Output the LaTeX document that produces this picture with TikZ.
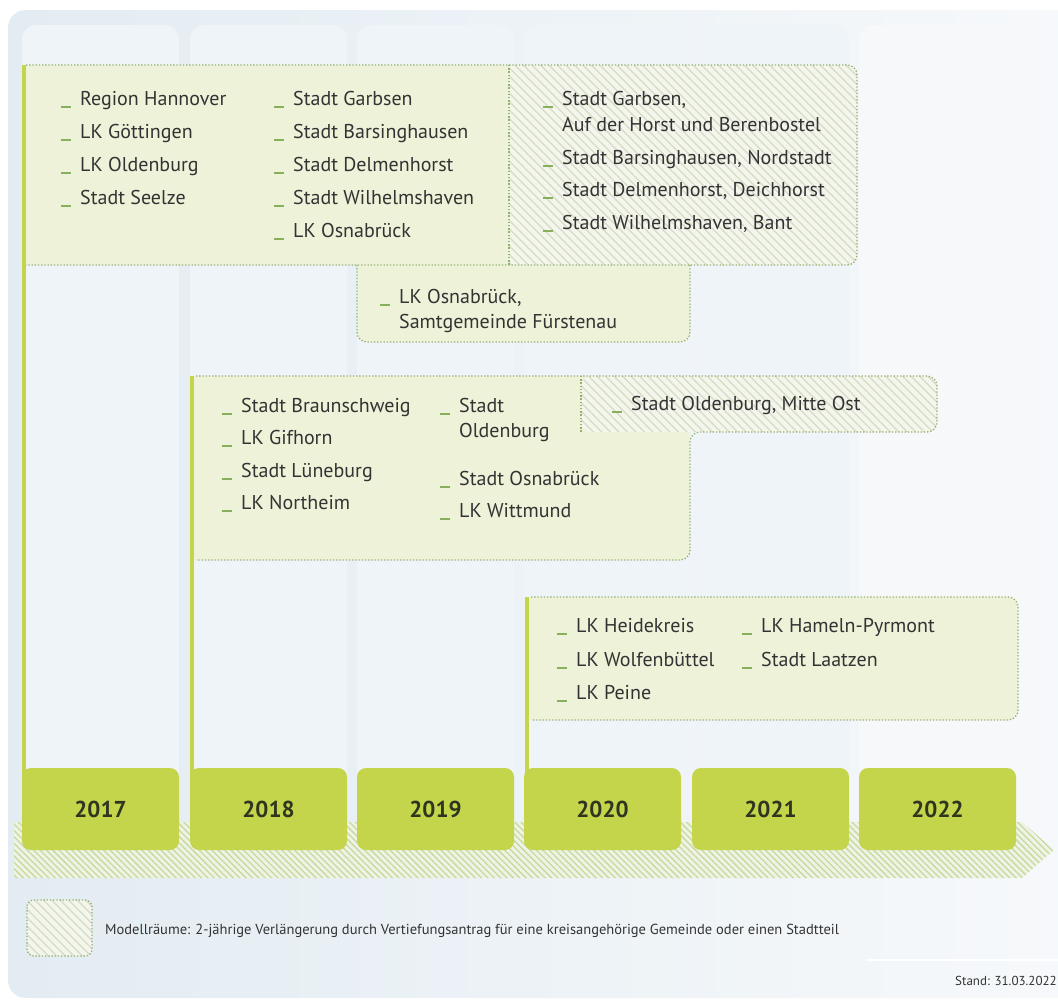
\documentclass[tikz,border=0pt]{standalone}
\usepackage{fontspec}
\setmainfont{PT Sans}
\usetikzlibrary{patterns.meta}

\definecolor{bgleft}{HTML}{E3ECF2}
\definecolor{bgright}{HTML}{F7F9FB}
\definecolor{colbg}{HTML}{EFF4F8}
\definecolor{colwhite}{HTML}{F6F8FA}
\definecolor{boxfill}{HTML}{EEF2D9}
\definecolor{hatchbg}{HTML}{F4F6EE}
\definecolor{hatchline}{HTML}{D7DEC6}
\definecolor{bandbg}{HTML}{EEF3E6}
\definecolor{bandline}{HTML}{C7DA9C}
\definecolor{yeargreen}{HTML}{C4D54C}
\definecolor{dotgreen}{HTML}{92B070}
\definecolor{dashgreen}{HTML}{86B05A}
\definecolor{textgray}{HTML}{333333}
\definecolor{yeartext}{HTML}{30351F}

\newcommand{\itemdash}{\textcolor{dashgreen}{\rule[-2.5pt]{10pt}{1.6pt}}\hspace{9pt}}

\tikzset{
    plainbox/.style={fill=boxfill},
    hatchbox/.style={preaction={fill=hatchbg}, pattern={Lines[angle=-45,distance=6pt,line width=1.4pt]}, pattern color=hatchline},
    bandhatch/.style={preaction={fill=bandbg}, pattern={Lines[angle=-45,distance=4.5pt,line width=1.3pt]}, pattern color=bandline},
    dotborder/.style={draw=dotgreen, line width=1.3pt, dash pattern=on 1.3pt off 1.9pt, rounded corners=10pt},
    greenbar/.style={draw=yeargreen, line width=4pt, shorten >=-8pt},
    column/.style={fill=colbg, rounded corners=14pt},
    yearbox/.style={fill=yeargreen, rounded corners=9pt, minimum width=157pt, minimum height=82pt, inner sep=0pt, text=yeartext, font=\fontsize{23}{26}\selectfont\bfseries},
    item/.style={anchor=base west, inner sep=0pt, text=textgray, font=\fontsize{20}{26}\selectfont},
    smalltext/.style={inner sep=0pt, text=textgray, font=\fontsize{14.5}{16}\selectfont},
}

\begin{document}
\begin{tikzpicture}[x=1pt,y=-1pt]
    \useasboundingbox (0,0) rectangle (1058,1001);
    \fill[white] (0,0) rectangle (1058,1001);
    \clip (0,0) rectangle (1058,1001);
    \shade[left color=bgleft, right color=bgright, rounded corners=18pt] (8,10) rectangle (1090,998);

    \fill[column] (22,25) rectangle (179,790);
    \fill[column] (190,25) rectangle (347,790);
    \fill[column] (357,25) rectangle (514,790);
    \fill[column] (524,25) rectangle (681,790);
    \fill[column] (692,25) rectangle (849,790);
    \fill[column, fill=colwhite] (859,25) rectangle (1016,790);

    \path[bandhatch] (14,822) -- (1022,822) -- (1054,850) -- (1022,878) -- (14,878) -- cycle;

    \node[yearbox] (y2017) at (100.5,809) {2017};
    \node[yearbox] (y2018) at (268.5,809) {2018};
    \node[yearbox] (y2019) at (435.5,809) {2019};
    \node[yearbox] (y2020) at (602.5,809) {2020};
    \node[yearbox] (y2021) at (770.5,809) {2021};
    \node[yearbox] (y2022) at (937.5,809) {2022};

    \fill[plainbox, rounded corners=10pt] (357,250) rectangle (690,342);
    \path[hatchbox, rounded corners=10pt] (499,65) rectangle (857,265);
    \fill[plainbox] (24,65) rectangle (509,265);
    \draw[dotborder] (26,65) -- (857,65) -- (857,265) -- (26,265);
    \draw[dotborder] (509,65) -- (509,265);
    \draw[dotborder] (357,265) -- (357,342) -- (690,342) -- (690,265);

    \fill[plainbox, rounded corners=10pt] (192,376) rectangle (690,560);
    \fill[plainbox] (192,376) rectangle (600,560);
    \path[hatchbox, rounded corners=10pt] (581,376) rectangle (937,432);
    \draw[dotborder] (196,376) -- (937,376) -- (937,432) -- (690,432) -- (690,560) -- (196,560);
    \draw[dotborder] (581,376) -- (581,432);

    \fill[plainbox, rounded corners=10pt] (527,597) rectangle (1018,720);
    \fill[plainbox] (527,597) rectangle (800,720);
    \draw[dotborder] (531,597) -- (1018,597) -- (1018,720) -- (531,720);

    \coordinate (barA) at (24,65);
    \coordinate (barD) at (192,376);
    \coordinate (barF) at (527,597);
    \draw[greenbar] (barA) -- (barA |- y2017.north);
    \draw[greenbar] (barD) -- (barD |- y2018.north);
    \draw[greenbar] (barF) -- (barF |- y2020.north);

    \node[item] (hannover) at (61,105) {\itemdash Region Hannover};
    \node[item] (goettingen) at (61,138) {\itemdash LK Göttingen};
    \node[item] (oldenburgLK) at (61,171) {\itemdash LK Oldenburg};
    \node[item] (seelze) at (61,204) {\itemdash Stadt Seelze};

    \node[item] (garbsen) at (274,105) {\itemdash Stadt Garbsen};
    \node[item] (barsinghausen) at (274,138) {\itemdash Stadt Barsinghausen};
    \node[item] (delmenhorst) at (274,171) {\itemdash Stadt Delmenhorst};
    \node[item] (wilhelmshaven) at (274,204) {\itemdash Stadt Wilhelmshaven};
    \node[item] (osnabrueckLK) at (274,237) {\itemdash LK Osnabrück};

    \node[item] (garbsenV) at (543,105) {\itemdash Stadt Garbsen,};
    \node[item] (garbsenV2) at (562,131) {Auf der Horst und Berenbostel};
    \node[item] (barsinghausenV) at (543,164) {\itemdash Stadt Barsinghausen, Nordstadt};
    \node[item] (delmenhorstV) at (543,196) {\itemdash Stadt Delmenhorst, Deichhorst};
    \node[item] (wilhelmshavenV) at (543,229) {\itemdash Stadt Wilhelmshaven, Bant};

    \node[item] (osnabrueckV) at (380,303) {\itemdash LK Osnabrück,};
    \node[item] (osnabrueckV2) at (399,328) {Samtgemeinde Fürstenau};

    \node[item] (braunschweig) at (222,412) {\itemdash Stadt Braunschweig};
    \node[item] (gifhorn) at (222,444) {\itemdash LK Gifhorn};
    \node[item] (lueneburg) at (222,477) {\itemdash Stadt Lüneburg};
    \node[item] (northeim) at (222,509) {\itemdash LK Northeim};

    \node[item] (oldenburg) at (440,412) {\itemdash Stadt};
    \node[item] (oldenburg2) at (459,437) {Oldenburg};
    \node[item] (osnabrueck) at (440,485) {\itemdash Stadt Osnabrück};
    \node[item] (wittmund) at (440,517) {\itemdash LK Wittmund};

    \node[item] (oldenburgV) at (612,410) {\itemdash Stadt Oldenburg, Mitte Ost};

    \node[item] (heidekreis) at (557,632) {\itemdash LK Heidekreis};
    \node[item] (wolfenbuettel) at (557,666) {\itemdash LK Wolfenbüttel};
    \node[item] (peine) at (557,699) {\itemdash LK Peine};
    \node[item] (hameln) at (742,632) {\itemdash LK Hameln-Pyrmont};
    \node[item] (laatzen) at (742,666) {\itemdash Stadt Laatzen};

    \path[hatchbox, rounded corners=7pt] (27,900) rectangle (92,956);
    \draw[dotborder, rounded corners=7pt] (27,900) rectangle (92,956);
    \node[smalltext, anchor=west] (legend) at (105,931) {Modellräume: 2-jährige Verlängerung durch Vertiefungsantrag für eine kreisangehörige Gemeinde oder einen Stadtteil};

    \draw[white, line width=2pt] (866,960) -- (1058,960);
    \node[smalltext, anchor=east, font=\fontsize{13}{15}\selectfont] (stand) at (1057,981) {Stand: 31.03.2022};
\end{tikzpicture}
\end{document}
